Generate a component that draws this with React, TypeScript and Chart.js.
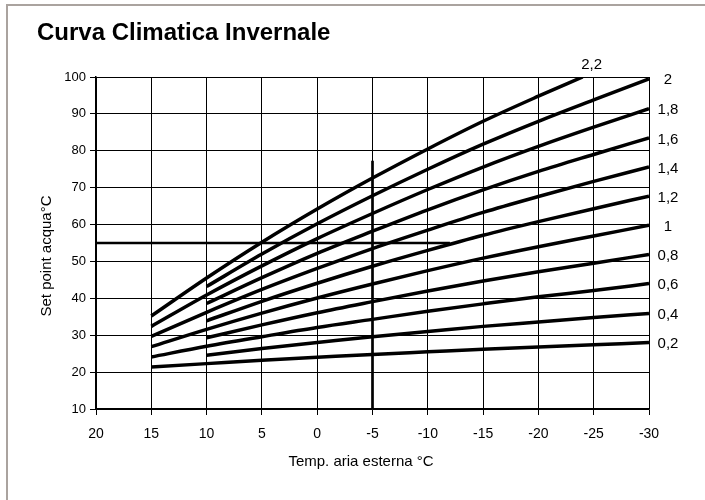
import React, { useEffect, useRef } from "react";
import { Chart, registerables } from "chart.js";

Chart.register(...registerables);

// ---- data ----
const TITLE = "Curva Climatica Invernale";
const X_TITLE = "Temp. aria esterna °C";
const Y_TITLE = "Set point acqua°C";

const X_FROM_15 = [15, 10, 5, 0, -5, -10, -15, -20, -25, -30];
const X_FROM_10 = [10, 5, 0, -5, -10, -15, -20, -25, -30];
const X_CURVE_22 = [15, 10, 5, 0, -5, -10, -15, -20, -24];

const CURVE_22 = [35.2, 45.5, 55.2, 64.2, 72.6, 80.5, 88.0, 94.8, 100];
const CURVE_20 = [43.2, 52.0, 60.2, 67.8, 75.0, 81.8, 88.0, 93.8, 99.5];
const CURVE_18 = [32.4, 40.9, 48.8, 56.2, 63.0, 69.5, 75.6, 81.2, 86.4, 91.4];
const CURVE_16 = [38.6, 45.6, 52.2, 58.2, 64.0, 69.4, 74.4, 79.0, 83.5];
const CURVE_14 = [29.7, 36.2, 42.4, 48.1, 53.5, 58.5, 63.3, 67.6, 71.7, 75.6];
const CURVE_12 = [33.9, 39.2, 44.1, 48.7, 53.0, 57.1, 60.8, 64.3, 67.7];
const CURVE_10 = [26.9, 31.6, 36.0, 40.1, 43.9, 47.5, 50.9, 54.0, 56.9, 59.8];
const CURVE_08 = [29.3, 32.8, 36.1, 39.1, 42.0, 44.7, 47.2, 49.5, 51.9];
const CURVE_06 = [24.1, 27.0, 29.6, 32.1, 34.3, 36.5, 38.5, 40.4, 42.1, 44.0];
const CURVE_04 = [24.6, 26.4, 28.0, 29.6, 31.0, 32.4, 33.6, 34.8, 35.9];
const CURVE_02 = [21.4, 22.3, 23.2, 24.0, 24.8, 25.5, 26.2, 26.8, 27.4, 28.0];

const CURVE_LABELS = ["2,2", "2", "1,8", "1,6", "1,4", "1,2", "1", "0,8", "0,6", "0,4", "0,2"];

// reference lines: set point 55 °C, outdoor temperature -5 °C
const H_LINE_X = [20, -12];
const H_LINE_Y = [55, 55];
const V_LINE_X = [-5, -5];
const V_LINE_Y = [10, 77.3];

const X_MIN = -30;
const X_MAX = 20;
const Y_MIN = 10;
const Y_MAX = 100;

const FONT = '"Liberation Sans", Arial, sans-serif';

function pts(xs: number[], ys: number[]) {
  return xs.map((x, i) => ({ x, y: ys[i] }));
}

const decorPlugin = {
  id: "decor",
  beforeDraw(chart: any) {
    const { ctx, width, height } = chart;
    ctx.save();
    ctx.fillStyle = "#ffffff";
    ctx.fillRect(0, 0, width, height);
    // frame
    ctx.strokeStyle = "#aaa39f";
    ctx.lineWidth = 2;
    ctx.beginPath();
    ctx.moveTo(7, height + 2);
    ctx.lineTo(7, 5);
    ctx.lineTo(width + 2, 5);
    ctx.stroke();
    // title
    ctx.fillStyle = "#000";
    ctx.font = "bold 24px " + FONT;
    ctx.textAlign = "left";
    ctx.textBaseline = "alphabetic";
    ctx.fillText(TITLE, 37, 40);
    ctx.restore();
  },
  afterDraw(chart: any) {
    const { ctx, chartArea } = chart;
    ctx.save();
    ctx.fillStyle = "#000";
    ctx.textAlign = "center";
    ctx.textBaseline = "middle";
    // axis titles
    ctx.font = "15px " + FONT;
    ctx.fillText(X_TITLE, 361, 462);
    ctx.save();
    ctx.translate(47, 256);
    ctx.rotate(-Math.PI / 2);
    ctx.fillText(Y_TITLE, 0, 0);
    ctx.restore();
    // curve labels
    ctx.font = "15px " + FONT;
    chart.data.datasets.forEach((ds: any, i: number) => {
      if (!ds.curveLabel) return;
      const meta = chart.getDatasetMeta(i);
      const p = meta.data[meta.data.length - 1];
      if (!p) return;
      if (ds.curveLabel === "2,2") {
        ctx.fillText(ds.curveLabel, p.x + 9, p.y - 12);
      } else {
        ctx.fillText(ds.curveLabel, chartArea.right + 19, p.y + 1.5);
      }
    });
    ctx.restore();
  },
};

export default function App() {
  const ref = useRef<HTMLCanvasElement | null>(null);

  useEffect(() => {
    if (!ref.current) return;
    const curves = [
      [X_CURVE_22, CURVE_22],
      [X_FROM_10, CURVE_20],
      [X_FROM_15, CURVE_18],
      [X_FROM_10, CURVE_16],
      [X_FROM_15, CURVE_14],
      [X_FROM_10, CURVE_12],
      [X_FROM_15, CURVE_10],
      [X_FROM_10, CURVE_08],
      [X_FROM_15, CURVE_06],
      [X_FROM_10, CURVE_04],
      [X_FROM_15, CURVE_02],
    ];
    const datasets: any[] = curves.map(([xs, ys], i) => ({
      label: CURVE_LABELS[i],
      curveLabel: CURVE_LABELS[i],
      data: pts(xs as number[], ys as number[]),
      borderColor: "#000",
      borderWidth: 3.5,
      pointRadius: 0,
      tension: 0.4,
      cubicInterpolationMode: "monotone",
      fill: false,
    }));
    datasets.push({
      label: "h",
      data: pts(H_LINE_X, H_LINE_Y),
      borderColor: "#000",
      borderWidth: 2.5,
      pointRadius: 0,
      fill: false,
    });
    datasets.push({
      label: "v",
      data: pts(V_LINE_X, V_LINE_Y),
      borderColor: "#000",
      borderWidth: 2.7,
      pointRadius: 0,
      fill: false,
    });

    const chart = new Chart(ref.current, {
      type: "line",
      data: { datasets },
      plugins: [decorPlugin],
      options: {
        animation: false,
        responsive: false,
        layout: { padding: { left: 0, top: 77, right: 56, bottom: 0 } },
        plugins: {
          legend: { display: false },
          tooltip: { enabled: false },
          title: { display: false },
        },
        scales: {
          x: {
            type: "linear",
            reverse: true,
            min: X_MIN,
            max: X_MAX,
            ticks: {
              stepSize: 5,
              color: "#000",
              font: { family: FONT, size: 14 },
              padding: 11,
              maxRotation: 0,
            },
            grid: { color: "#000", lineWidth: 1, tickLength: 6, drawTicks: true },
            border: { color: "#000", width: 1.5 },
            afterFit: (scale: any) => {
              scale.height = 91;
            },
          },
          y: {
            type: "linear",
            min: Y_MIN,
            max: Y_MAX,
            ticks: {
              stepSize: 10,
              color: "#000",
              font: { family: FONT, size: 13 },
              padding: 4,
            },
            grid: { color: "#000", lineWidth: 1, tickLength: 6, drawTicks: true },
            border: { color: "#000", width: 1.5 },
            afterFit: (scale: any) => {
              scale.width = 96;
            },
          },
        },
      } as any,
    });
    return () => chart.destroy();
  }, []);

  return (
    <div style={{ position: "fixed", left: 0, top: 0, width: 705, height: 500, background: "#fff" }}>
      <canvas ref={ref} width={705} height={500} style={{ display: "block" }} />
    </div>
  );
}
